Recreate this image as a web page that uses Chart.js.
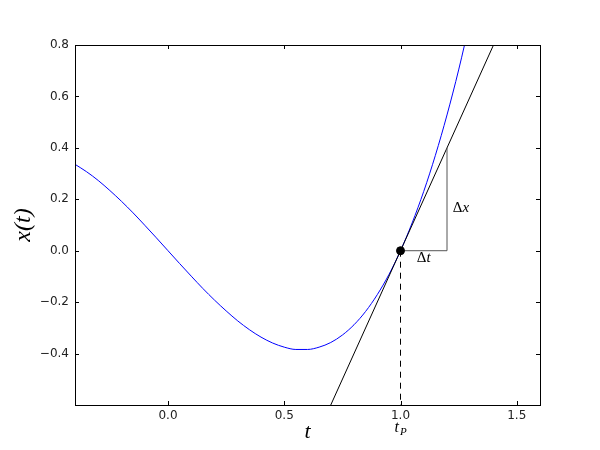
<!DOCTYPE html>
<html>
<head>
<meta charset="utf-8">
<script src="https://cdn.jsdelivr.net/npm/chart.js@4/dist/chart.umd.min.js"></script>
<style>
  html, body { margin: 0; padding: 0; background: #fff; }
  #wrap { width: 600px; height: 450px; }
</style>
</head>
<body>
<div id="wrap"><canvas id="c" width="600" height="450"></canvas></div>
<script>
// ---- data ----
const curveT = [-0.40,-0.35,-0.30,-0.25,-0.20,-0.15,-0.10,-0.05,0.00,0.05,0.10,0.15,0.20,0.25,0.30,0.35,0.40,0.45,0.50,0.55,0.60,0.65,0.70,0.75,0.80,0.85,0.90,0.95,1.00,1.05,1.10,1.15,1.20,1.25,1.30];
const curveX = [0.336,0.307,0.273,0.234,0.192,0.147,0.099,0.050,0.000,-0.050,-0.099,-0.147,-0.192,-0.234,-0.273,-0.307,-0.336,-0.359,-0.375,-0.384,-0.384,-0.375,-0.357,-0.328,-0.288,-0.236,-0.171,-0.093,0.000,0.108,0.231,0.371,0.528,0.703,0.897];
const tangentT = [0.7, 1.4];
const tangentX = [-0.6, 0.8];
const dropT = [1.0, 1.0];
const dropX = [0.0, -0.6];
const triT = [1.0, 1.2, 1.2];
const triX = [0.0, 0.0, 0.4];
const pointT = [1.0];
const pointX = [0.0];
const xTicks = [0.0, 0.5, 1.0, 1.5];
const yTicks = [-0.4, -0.2, 0.0, 0.2, 0.4, 0.6, 0.8];
const xRange = [-0.4, 1.6];
const yRange = [-0.6, 0.8];
const labels = { xTitle: 't', yTitle: 'x(t)', dt: 't', dx: 'x', tp: 't', tpSub: 'P' };

const zip = (a, b) => a.map((v, i) => ({ x: v, y: b[i] }));
const fmt = v => { const s = Math.abs(v).toFixed(1); return (v < -1e-9 ? '\u2212' : '') + s; };

const frameTicks = {
  id: 'frameTicks',
  afterDatasetsDraw(chart) {
    const { ctx, chartArea: a, scales } = chart;
    const xs = scales.x, ys = scales.y;
    ctx.save();
    ctx.strokeStyle = '#000';
    ctx.lineWidth = 1;
    ctx.strokeRect(Math.round(a.left) + 0.5, Math.round(a.top) + 0.5, Math.round(a.right - a.left), Math.round(a.bottom - a.top));
    const L = 4;
    ctx.beginPath();
    xTicks.forEach(v => {
      const px = Math.round(xs.getPixelForValue(v)) + 0.5;
      ctx.moveTo(px, a.bottom); ctx.lineTo(px, a.bottom - L);
      ctx.moveTo(px, a.top); ctx.lineTo(px, a.top + L);
    });
    yTicks.forEach(v => {
      const py = Math.round(ys.getPixelForValue(v)) + 0.5;
      ctx.moveTo(a.left, py); ctx.lineTo(a.left + L, py);
      ctx.moveTo(a.right, py); ctx.lineTo(a.right - L, py);
    });
    ctx.stroke();

    // annotations
    ctx.fillStyle = '#000';
    ctx.textBaseline = 'middle';
    const drawDelta = (x, y, letter, align) => {
      const f1 = '15px "Liberation Serif"';
      const f2 = 'italic 15px "Liberation Serif"';
      ctx.font = f1; const w1 = ctx.measureText('\u0394').width;
      ctx.font = f2; const w2 = ctx.measureText(letter).width;
      let sx = align === 'center' ? x - (w1 + w2) / 2 : x;
      ctx.textAlign = 'left';
      ctx.font = f1; ctx.fillText('\u0394', sx, y);
      ctx.font = f2; ctx.fillText(letter, sx + w1, y);
    };
    drawDelta(xs.getPixelForValue(1.1), ys.getPixelForValue(-0.03), labels.dt, 'center');
    drawDelta(xs.getPixelForValue(1.225), ys.getPixelForValue(0.165), labels.dx, 'left');

    // t_P under the 1.0 tick
    const tpx = xs.getPixelForValue(1.0);
    ctx.font = 'italic 16px "Liberation Serif"';
    ctx.textAlign = 'left';
    const wt = ctx.measureText(labels.tp).width;
    ctx.fillText(labels.tp, tpx - 6, 428);
    ctx.font = 'italic 11px "Liberation Serif"';
    ctx.fillText(labels.tpSub, tpx - 6 + wt + 1, 432);
    ctx.restore();
  }
};

new Chart(document.getElementById('c'), {
  type: 'scatter',
  data: {
    datasets: [
      { data: zip(curveT, curveX), showLine: true, borderColor: '#0000ff', borderWidth: 1, pointRadius: 0, cubicInterpolationMode: 'monotone', order: 5 },
      { data: zip(tangentT, tangentX), showLine: true, borderColor: '#000', borderWidth: 1, pointRadius: 0, order: 4 },
      { data: zip(dropT, dropX), showLine: true, borderColor: '#000', borderWidth: 1, borderDash: [6, 5], pointRadius: 0, order: 3 },
      { data: zip(triT, triX), showLine: true, borderColor: '#555', borderWidth: 1, pointRadius: 0, order: 2 },
      { data: zip(pointT, pointX), showLine: false, backgroundColor: '#000', borderColor: '#000', pointRadius: 4, order: 1 }
    ]
  },
  options: {
    responsive: false,
    animation: false,
    events: [],
    layout: { padding: { left: 0, right: 60, top: 45, bottom: 0 } },
    plugins: { legend: { display: false }, tooltip: { enabled: false } },
    scales: {
      x: {
        type: 'linear', min: xRange[0], max: xRange[1],
        grid: { display: false, drawTicks: false },
        border: { display: false },
        afterBuildTicks: s => { s.ticks = xTicks.map(v => ({ value: v })); },
        afterFit: s => { s.height = 45; },
        ticks: { color: '#222', padding: 4, font: { family: 'DejaVu Sans', size: 12 }, callback: v => fmt(v), maxRotation: 0 },
        title: { display: true, text: labels.xTitle, color: '#000', padding: { top: 0, bottom: 5 }, font: { family: 'Liberation Serif', style: 'italic', size: 22 } }
      },
      y: {
        type: 'linear', min: yRange[0], max: yRange[1],
        grid: { display: false, drawTicks: false },
        border: { display: false },
        afterBuildTicks: s => { s.ticks = yTicks.map(v => ({ value: v })); },
        afterFit: s => { s.width = 75; },
        ticks: { color: '#222', padding: 6, font: { family: 'DejaVu Sans', size: 12 }, callback: v => fmt(v) },
        title: { display: true, text: labels.yTitle, color: '#000', padding: { top: 9, bottom: 0 }, font: { family: 'Liberation Serif', style: 'italic', size: 24 } }
      }
    }
  },
  plugins: [frameTicks]
});
</script>
</body>
</html>
